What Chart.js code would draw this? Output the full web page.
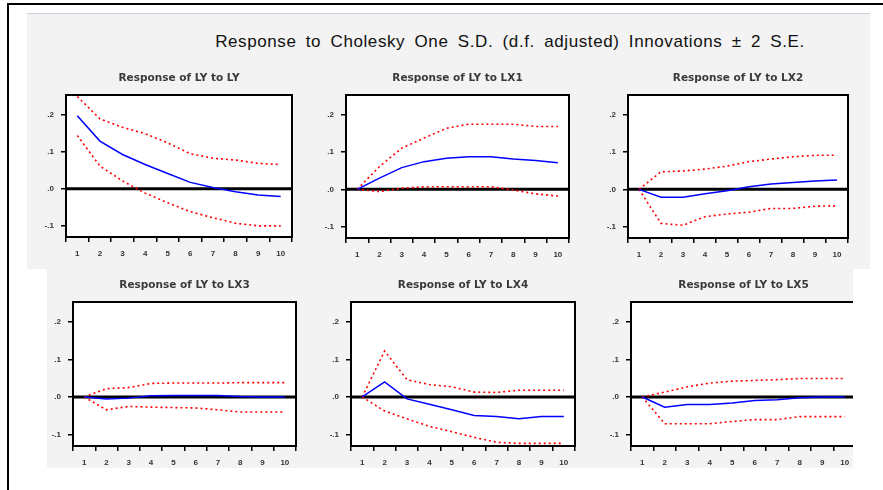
<!DOCTYPE html>
<html>
<head>
<meta charset="utf-8">
<script src="https://cdn.jsdelivr.net/npm/chart.js@4/dist/chart.umd.min.js"></script>
<style>
   html, body { margin: 0; padding: 0; background: #fff; }
   #page { position: relative; width: 883px; height: 490px; overflow: hidden; background: #fff; }
   #frameTop { position: absolute; left: 7px; top: 3px; width: 876px; height: 2px; background: #000; }
   #frameLeft { position: absolute; left: 7px; top: 3px; width: 2px; height: 487px; background: #000; }
   #topPanel { position: absolute; left: 27px; top: 13px; width: 843px; height: 255px; background: #f3f3f3; border-top: 1px solid #c9d1de; }
   #bottomPanel { position: absolute; left: 47px; top: 262px; width: 806px; height: 206px; background: #f3f3f3; overflow: hidden; }
   #mainTitle { position: absolute; left: 110px; top: 32px; width: 800px; text-align: center; font: 17px "Liberation Sans", Arial, sans-serif; color: #111; word-spacing: 4px; letter-spacing: 0.6px; }
   canvas { position: absolute; }
</style>
</head>
<body>
<div id="page">
   <div id="frameTop"></div>
   <div id="frameLeft"></div>
   <div id="topPanel"></div>
   <div id="bottomPanel"></div>
   <div id="mainTitle">Response to Cholesky One S.D. (d.f. adjusted) Innovations ± 2 S.E.</div>
</div>
<script>
'use strict';

/***** DATA *****/
var periods = ['1', '2', '3', '4', '5', '6', '7', '8', '9', '10'];
var yTickValues = [-0.1, 0, 0.1, 0.2];
var yTickLabels = ['-.1', '.0', '.1', '.2'];

var lyLyResp  = [0.196, 0.128, 0.092, 0.065, 0.041, 0.017, 0.003, -0.008, -0.017, -0.021];
var lyLyUpper = [0.248, 0.188, 0.165, 0.148, 0.123, 0.094, 0.082, 0.077, 0.068, 0.065];
var lyLyLower = [0.143, 0.061, 0.021, -0.012, -0.038, -0.062, -0.078, -0.093, -0.100, -0.100];

var lyLx1Resp  = [0, 0.030, 0.058, 0.074, 0.083, 0.087, 0.087, 0.081, 0.077, 0.071];
var lyLx1Upper = [0, 0.061, 0.110, 0.137, 0.163, 0.174, 0.174, 0.174, 0.168, 0.168];
var lyLx1Lower = [0, -0.006, 0.003, 0.007, 0.007, 0.007, 0.007, -0.002, -0.012, -0.018];

var lyLx2Resp  = [0, -0.021, -0.021, -0.012, -0.004, 0.007, 0.014, 0.018, 0.022, 0.025];
var lyLx2Upper = [0, 0.047, 0.049, 0.054, 0.062, 0.074, 0.081, 0.087, 0.091, 0.091];
var lyLx2Lower = [0, -0.091, -0.096, -0.073, -0.066, -0.061, -0.051, -0.051, -0.045, -0.044];

var lyLx3Resp  = [0, -0.005, -0.003, 0.003, 0.004, 0.004, 0.004, 0.001, 0.000, 0.000];
var lyLx3Upper = [0, 0.022, 0.025, 0.036, 0.037, 0.037, 0.037, 0.038, 0.038, 0.038];
var lyLx3Lower = [0, -0.034, -0.025, -0.027, -0.028, -0.029, -0.034, -0.040, -0.040, -0.040];

var lyLx4Resp  = [0, 0.040, -0.005, -0.019, -0.034, -0.049, -0.052, -0.058, -0.052, -0.052];
var lyLx4Upper = [0, 0.122, 0.046, 0.033, 0.027, 0.013, 0.012, 0.018, 0.018, 0.018];
var lyLx4Lower = [0, -0.037, -0.058, -0.078, -0.092, -0.107, -0.120, -0.123, -0.123, -0.123];

var lyLx5Resp  = [0, -0.027, -0.020, -0.020, -0.016, -0.009, -0.007, -0.002, 0.000, 0.000];
var lyLx5Upper = [0, 0.013, 0.027, 0.037, 0.042, 0.044, 0.046, 0.049, 0.049, 0.049];
var lyLx5Lower = [0, -0.071, -0.071, -0.071, -0.065, -0.060, -0.060, -0.052, -0.052, -0.052];

// plot boxes (chart area) in page pixels
var panels = [
   { title: 'Response of LY to LY',  resp: lyLyResp,  upper: lyLyUpper,  lower: lyLyLower,  box: [66, 95, 292, 237],  parent: 'page' },
   { title: 'Response of LY to LX1', resp: lyLx1Resp, upper: lyLx1Upper, lower: lyLx1Lower, box: [346, 95, 569, 238], parent: 'page' },
   { title: 'Response of LY to LX2', resp: lyLx2Resp, upper: lyLx2Upper, lower: lyLx2Lower, box: [628, 95, 848, 238], parent: 'page' },
   { title: 'Response of LY to LX3', resp: lyLx3Resp, upper: lyLx3Upper, lower: lyLx3Lower, box: [73, 302, 296, 446], parent: 'bottomPanel' },
   { title: 'Response of LY to LX4', resp: lyLx4Resp, upper: lyLx4Upper, lower: lyLx4Lower, box: [351, 302, 575, 446], parent: 'bottomPanel' },
   { title: 'Response of LY to LX5', resp: lyLx5Resp, upper: lyLx5Upper, lower: lyLx5Lower, box: [631, 302, 856, 446], parent: 'bottomPanel' }
];

var AXIS_W = 45, TITLE_H = 28, XAXIS_H = 26, PAD_R = 5;
var TITLE_SIZE = 10.5;

/***** PLUGINS *****/
var frameAndZero = {
   id: 'frameAndZero',
   beforeDatasetsDraw: function (chart) {
      var ctx = chart.ctx, a = chart.chartArea;
      var y0 = chart.scales.y.getPixelForValue(0);
      ctx.save();
      ctx.strokeStyle = '#000';
      ctx.lineWidth = 3;
      ctx.beginPath();
      ctx.moveTo(a.left, y0);
      ctx.lineTo(a.right, y0);
      ctx.stroke();
      ctx.restore();
   },
   afterDatasetsDraw: function (chart) {
      var ctx = chart.ctx, a = chart.chartArea;
      ctx.save();
      ctx.strokeStyle = '#000';
      ctx.lineWidth = 2;
      ctx.strokeRect(a.left, a.top, a.right - a.left, a.bottom - a.top);
      ctx.restore();
   }
};

var whiteArea = {
   id: 'whiteArea',
   beforeDraw: function (chart) {
      var ctx = chart.ctx, a = chart.chartArea;
      ctx.save();
      ctx.fillStyle = '#fff';
      ctx.fillRect(a.left, a.top, a.right - a.left, a.bottom - a.top);
      ctx.restore();
   }
};

/***** BUILD CHARTS *****/
function makePanel (p) {
   var parent = document.getElementById(p.parent);
   var offX = p.parent === 'bottomPanel' ? 47 : 0;
   var offY = p.parent === 'bottomPanel' ? 262 : 0;
   var canvas = document.createElement('canvas');
   var w = (p.box[2] - p.box[0]) + AXIS_W + PAD_R;
   var h = (p.box[3] - p.box[1]) + TITLE_H + XAXIS_H;
   canvas.style.left = (p.box[0] - AXIS_W - offX) + 'px';
   canvas.style.top = (p.box[1] - TITLE_H - offY) + 'px';
   canvas.style.width = w + 'px';
   canvas.style.height = h + 'px';
   canvas.width = w;
   canvas.height = h;
   parent.appendChild(canvas);

   new Chart(canvas, {
      type: 'line',
      data: {
         labels: periods,
         datasets: [
            { data: p.resp, borderColor: '#0000ff', borderWidth: 1.5, pointRadius: 0, tension: 0 },
            { data: p.upper, borderColor: '#ff0000', borderWidth: 1.6, borderDash: [2, 3], pointRadius: 0, tension: 0 },
            { data: p.lower, borderColor: '#ff0000', borderWidth: 1.6, borderDash: [2, 3], pointRadius: 0, tension: 0 }
         ]
      },
      options: {
         responsive: false,
         animation: false,
         devicePixelRatio: 1,
         layout: { padding: { left: 0, right: PAD_R, top: 0, bottom: 0 } },
         plugins: {
            legend: { display: false },
            tooltip: { enabled: false },
            title: {
               display: true,
               fullSize: false,
               text: p.title,
               color: '#3a3a3a',
               font: { family: 'DejaVu Sans, Arial, sans-serif', size: TITLE_SIZE, weight: 'bold' },
               padding: { top: 5, bottom: TITLE_H - 5 - TITLE_SIZE * 1.2 }
            }
         },
         scales: {
            x: {
               type: 'category',
               offset: true,
               afterFit: function (s) { s.height = XAXIS_H; },
               grid: { offset: true, drawOnChartArea: false, drawTicks: true, tickLength: 5, color: '#000', lineWidth: 1.5 },
               border: { display: false },
               ticks: { color: '#333', padding: 7, maxRotation: 0, autoSkip: false, font: { family: 'Liberation Sans, Arial, sans-serif', size: 8, weight: 'bold' } }
            },
            y: {
               min: -0.13,
               max: 0.252,
               afterFit: function (s) { s.width = AXIS_W; },
               afterBuildTicks: function (s) {
                  s.ticks = yTickValues.map(function (v) { return { value: v }; });
               },
               grid: { drawOnChartArea: false, drawTicks: true, tickLength: 5, color: '#000', lineWidth: 1.5 },
               border: { display: false },
               ticks: {
                  color: '#333',
                  padding: 7,
                  font: { family: 'Liberation Sans, Arial, sans-serif', size: 8, weight: 'bold' },
                  callback: function (v) { return yTickLabels[yTickValues.indexOf(v)]; }
               }
            }
         }
      },
      plugins: [whiteArea, frameAndZero]
   });
}

for (var i in panels) {
   makePanel(panels[i]);
}
</script>
</body>
</html>
